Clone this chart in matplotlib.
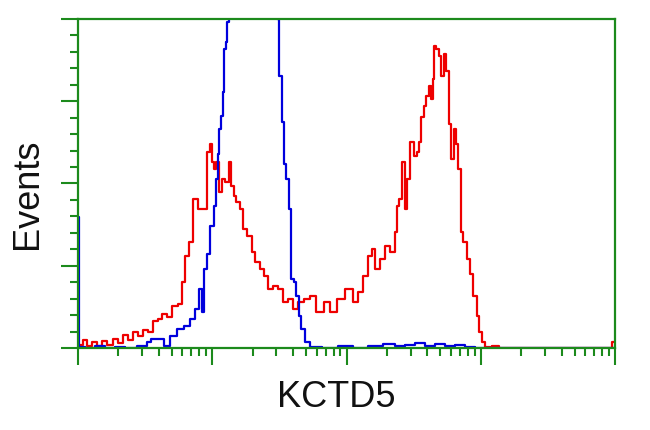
import matplotlib
matplotlib.use("Agg")
import matplotlib.pyplot as plt
from matplotlib.ticker import MultipleLocator, LogLocator, NullFormatter
import numpy as np

# histogram data: x in 1024-channel log scale (4 decades), y in event counts
red_ch = [4, 13, 23, 32, 42, 51, 61, 71, 80, 90, 99, 109, 118, 128, 137, 147, 156, 166, 175, 185,
          195, 200, 208, 214, 223, 233, 242, 248, 254, 256, 261, 267, 271, 277, 284, 290, 294, 299,
          305, 313, 318, 328, 334, 341, 351, 360, 366, 376, 385, 395, 404, 414, 423, 437, 448, 461,
          475, 486, 500, 519, 528, 538, 547, 557, 563, 570, 580, 589, 599, 608, 610, 614, 620, 627,
          629, 637, 643, 648, 652, 656, 662, 666, 671, 675, 677, 681, 685, 690, 694, 700, 704, 709,
          715, 719, 723, 728, 732, 738, 744, 751, 757, 763, 767, 772, 780, 799, 805, 1014, 1023]
red_counts = [4, 10, 2, 7, 2, 9, 4, 11, 6, 16, 10, 19, 15, 22, 19, 33, 35, 41, 38, 51,
              53, 80, 112, 129, 181, 169, 169, 238, 248, 226, 218, 226, 190, 205, 202, 226, 197, 185,
              178, 169, 145, 136, 117, 105, 96, 88, 72, 75, 72, 56, 60, 47, 56, 60, 63, 44,
              56, 44, 60, 72, 56, 68, 88, 112, 120, 96, 108, 124, 117, 141, 173, 181, 226, 169,
              205, 250, 233, 238, 250, 281, 294, 306, 319, 303, 327, 367, 364, 355, 331, 357, 337, 272,
              230, 266, 248, 218, 141, 129, 108, 90, 63, 39, 19, 7, 1, 2, 0, 0, 7]

blue_ch = [0, 4, 23, 42, 61, 80, 99, 124, 137, 143, 156, 170, 181, 195, 208, 219, 227, 233, 239,
           242, 248, 256, 261, 265, 267, 271, 275, 277, 280, 284, 286, 288, 328, 379, 381, 385,
           391, 395, 400, 404, 408, 414, 418, 423, 429, 437, 448, 481, 509, 538, 566, 595, 614,
           633, 652, 671, 690, 709, 728, 747, 767, 1023]
blue_counts = [159, 1, 0, 2, 0, 1, 0, 2, 7, 11, 11, 2, 15, 23, 27, 35, 47, 72, 44,
               96, 114, 148, 173, 205, 236, 266, 282, 311, 364, 372, 396, 424, 700, 424, 400, 331,
               275, 224, 205, 169, 84, 80, 63, 39, 23, 7, 1, 0, 2, 0, 2, 5, 2,
               4, 6, 2, 5, 2, 4, 1, 0, 0]

green = "#1c8a1c"

fig = plt.figure(figsize=(6.5, 4.31), dpi=100)
ax = fig.add_axes([0.12, 0.1903, 0.8262, 0.7633])

red_x = 10 ** (np.array(red_ch) / 256.0)
blue_x = 10 ** (np.array(blue_ch) / 256.0)
ax.plot(red_x, red_counts, color="#ee0000", lw=1.6, drawstyle="steps-mid")
ax.plot(blue_x, blue_counts, color="#0000dd", lw=1.6, drawstyle="steps-mid")

ax.set_xscale("log")
ax.set_xlim(1, 10 ** 4)
ax.set_ylim(0, 400)

ax.yaxis.set_major_locator(MultipleLocator(100))
ax.yaxis.set_minor_locator(MultipleLocator(20))
ax.xaxis.set_major_locator(LogLocator(base=10, numticks=10))
ax.xaxis.set_minor_locator(LogLocator(base=10, subs=np.arange(2, 10), numticks=20))
ax.xaxis.set_major_formatter(NullFormatter())
ax.xaxis.set_minor_formatter(NullFormatter())
ax.yaxis.set_major_formatter(NullFormatter())

ax.tick_params(which="major", direction="out", length=12, width=1.5, color=green)
ax.tick_params(which="minor", direction="out", length=6, width=1.5, color=green)
for s in ax.spines.values():
    s.set_color(green)
    s.set_linewidth(1.6)

fig.text(336 / 650, 1 - 407 / 431, "KCTD5", fontsize=26, family="Liberation Sans",
         ha="center", va="baseline", color="#111111")
fig.text(27 / 650, 1 - 194 / 431, "Events", fontsize=26, family="Liberation Sans",
         rotation=90, ha="center", va="center", color="#111111")

fig.savefig("out.png", dpi=100)
